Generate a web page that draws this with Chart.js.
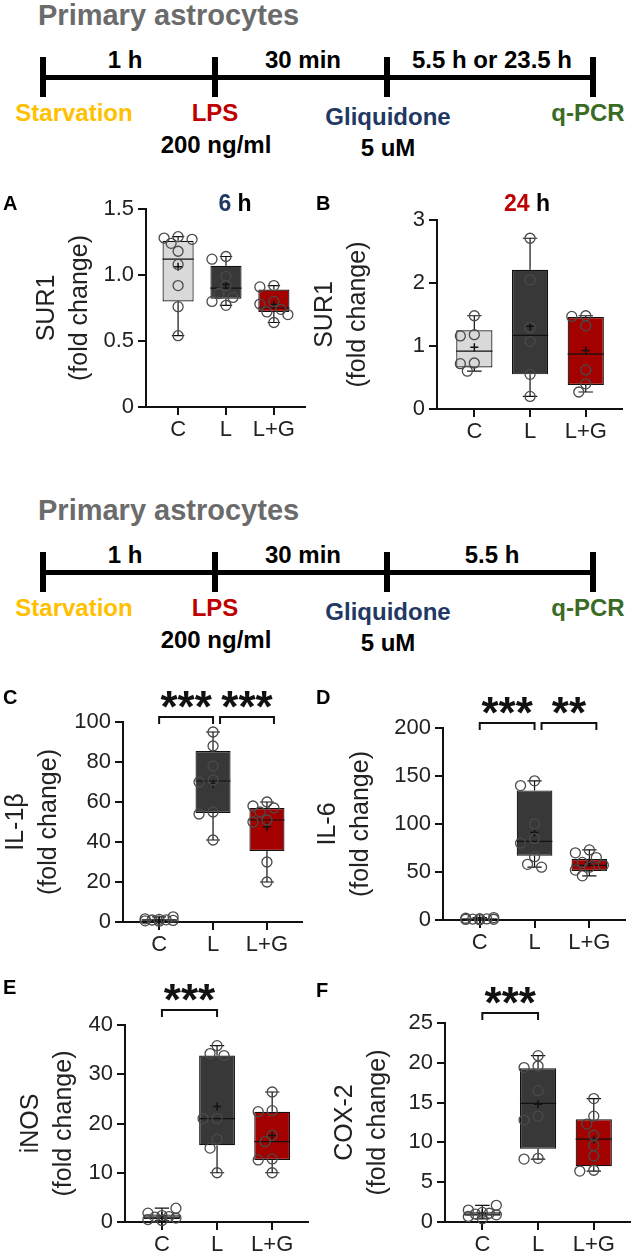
<!DOCTYPE html>
<html>
<head>
<meta charset="utf-8">
<script src="https://cdn.jsdelivr.net/npm/chart.js@4.4.1/dist/chart.umd.min.js"></script>
<style>
  body { margin: 0; background: #fff; }
  #page { position: relative; width: 632px; height: 1257px; overflow: hidden;
          font-family: "Liberation Sans", Arial, sans-serif; }
  .c { position: absolute; transform: translate(-50%, -50%); white-space: nowrap; font-weight: bold; }
  .l { position: absolute; transform: translateY(-50%); white-space: nowrap; font-weight: bold; }
  .k { position: absolute; background: #000; }
</style>
</head>
<body>
<div id="page"></div>
<script>
const groups = ["C", "L", "L+G"];
const boxColors = ["#d9d9d9", "#383838", "#a30000"];

// A: SUR1, 6 h
const sur6Ticks = [0, 0.5, 1.0, 1.5];
const sur6Points = [
  [1.29, 1.28, 1.27, 1.24, 1.18, 1.08, 0.92, 0.76, 0.54],
  [1.14, 1.12, 0.99, 0.92, 0.86, 0.83, 0.80, 0.77],
  [0.92, 0.91, 0.80, 0.78, 0.74, 0.72, 0.70, 0.64]
];
const sur6Low = [0.54, 0.77, 0.64];
const sur6Q1 = [0.80, 0.82, 0.72];
const sur6Median = [1.12, 0.90, 0.75];
const sur6Q3 = [1.26, 1.07, 0.89];
const sur6High = [1.29, 1.14, 0.92];

// B: SUR1, 24 h
const sur24Ticks = [0, 1, 2, 3];
const sur24Points = [
  [1.48, 1.18, 1.16, 0.73, 0.72, 0.60],
  [2.71, 2.05, 1.29, 1.07, 0.55, 0.20],
  [1.48, 1.47, 1.32, 0.62, 0.40, 0.27]
];
const sur24Low = [0.60, 0.20, 0.27];
const sur24Q1 = [0.66, 0.55, 0.38];
const sur24Median = [0.92, 1.17, 0.87];
const sur24Q3 = [1.25, 2.21, 1.46];
const sur24High = [1.48, 2.71, 1.48];

// C: IL-1beta
const il1bTicks = [0, 20, 40, 60, 80, 100];
const il1bPoints = [
  [0.4, 0.6, 0.8, 1.0, 1.1, 1.3, 1.6, 2.6],
  [95, 88, 78, 71, 70, 55, 54, 41],
  [60, 58, 57, 55, 51, 50, 30, 20]
];
const il1bLow = [0.4, 41, 20];
const il1bQ1 = [0.6, 54.5, 35.5];
const il1bMedian = [1.0, 70.5, 51];
const il1bQ3 = [1.4, 85.5, 57];
const il1bHigh = [2.6, 95, 60];

// D: IL-6
const il6Ticks = [0, 50, 100, 150, 200];
const il6Points = [
  [0.3, 0.6, 0.8, 1.0, 1.1, 1.4, 1.8, 2.5],
  [145, 140, 100, 85, 80, 66, 58, 55],
  [73, 70, 65, 60, 57, 55, 52, 46]
];
const il6Low = [0.3, 55, 46];
const il6Q1 = [0.6, 67, 51];
const il6Median = [1.0, 82, 57];
const il6Q3 = [1.5, 135, 63.5];
const il6High = [2.5, 145, 73];

// E: iNOS
const inosTicks = [0, 10, 20, 30, 40];
const inosPoints = [
  [0.3, 0.5, 0.8, 1.0, 1.1, 1.3, 1.8, 2.8],
  [35.8, 34.2, 33.8, 21, 21, 16.8, 15, 10],
  [26.4, 22.6, 22.4, 17.6, 16.3, 12.8, 12.6, 10]
];
const inosLow = [0.3, 10, 10];
const inosQ1 = [0.6, 15.6, 12.6];
const inosMedian = [1.0, 21, 16.3];
const inosQ3 = [1.5, 33.8, 22.4];
const inosHigh = [2.8, 35.8, 26.4];

// F: COX-2
const coxTicks = [0, 5, 10, 15, 20, 25];
const coxPoints = [
  [0.4, 0.7, 0.9, 1.0, 1.1, 1.2, 1.5, 2.1],
  [20.9, 19.6, 19.4, 16.5, 13.3, 12.8, 8.0, 7.9],
  [15.5, 13.3, 12.3, 10.9, 9.6, 8.3, 6.5, 6.4]
];
const coxLow = [0.4, 7.9, 6.4];
const coxQ1 = [0.8, 9.2, 7.0];
const coxMedian = [1.0, 14.9, 10.4];
const coxQ3 = [1.3, 19.3, 12.9];
const coxHigh = [2.1, 20.9, 15.5];

const page = document.getElementById("page");
const FONT = '"Liberation Sans", Arial, sans-serif';

function addEl(cls, html, css) {
  const d = document.createElement("div");
  d.className = cls;
  d.innerHTML = html;
  d.style.cssText = css;
  page.appendChild(d);
  return d;
}

// timeline block
function timeline(dy, lastSpan) {
  addEl("l", "Primary astrocytes", `left:38px;top:${dy + 15}px;font-size:29px;color:#6b6b6b`);
  addEl("c", "1 h", `left:125px;top:${dy + 60}px;font-size:24px`);
  addEl("c", "30 min", `left:303px;top:${dy + 60}px;font-size:24px`);
  addEl("c", lastSpan, `left:492px;top:${dy + 60}px;font-size:24px`);
  addEl("k", "", `left:43px;top:${dy + 75}px;width:550px;height:5px`);
  [43, 215, 387, 593].forEach(x => {
    addEl("k", "", `left:${x - 3}px;top:${dy + 57}px;width:6px;height:40px`);
  });
  addEl("c", "Starvation", `left:74px;top:${dy + 113}px;font-size:24px;color:#ffc000`);
  addEl("c", "LPS", `left:215px;top:${dy + 113}px;font-size:24px;color:#c00000`);
  addEl("c", "Gliquidone", `left:388px;top:${dy + 117}px;font-size:24px;color:#1f3864`);
  addEl("c", "q-PCR", `left:588px;top:${dy + 113}px;font-size:24px;color:#3a6b24`);
  addEl("c", "200 ng/ml", `left:216px;top:${dy + 145}px;font-size:24px`);
  addEl("c", "5 uM", `left:388px;top:${dy + 148}px;font-size:24px`);
}
timeline(0, "5.5 h or 23.5 h");
timeline(495, "5.5 h");

// box plot extras: whiskers, medians, means, points, significance brackets
const boxPlot = {
  id: "boxPlot",
  afterDatasetsDraw(chart, args, o) {
    const ctx = chart.ctx;
    const x = chart.scales.x, y = chart.scales.y;
    const bars = chart.getDatasetMeta(0).data;
    ctx.save();
    groups.forEach((g, i) => {
      const cx = x.getPixelForValue(i);
      const w = bars[i].width;
      const yq1 = y.getPixelForValue(o.q1[i]), yq3 = y.getPixelForValue(o.q3[i]);
      const ylo = y.getPixelForValue(o.low[i]), yhi = y.getPixelForValue(o.high[i]);
      const ym = y.getPixelForValue(o.median[i]);
      ctx.strokeStyle = "#111";
      ctx.lineWidth = 1.2;
      ctx.beginPath();
      ctx.moveTo(cx, yq3); ctx.lineTo(cx, yhi);
      ctx.moveTo(cx - w * 0.2, yhi); ctx.lineTo(cx + w * 0.2, yhi);
      ctx.moveTo(cx, yq1); ctx.lineTo(cx, ylo);
      ctx.moveTo(cx - w * 0.2, ylo); ctx.lineTo(cx + w * 0.2, ylo);
      ctx.moveTo(cx - w / 2, ym); ctx.lineTo(cx + w / 2, ym);
      ctx.stroke();

      // mean "+"
      const pts = o.points[i];
      const mean = pts.reduce((a, b) => a + b, 0) / pts.length;
      const yMean = y.getPixelForValue(mean);
      ctx.lineWidth = 1.5;
      ctx.beginPath();
      ctx.moveTo(cx - 4, yMean); ctx.lineTo(cx + 4, yMean);
      ctx.moveTo(cx, yMean - 4); ctx.lineTo(cx, yMean + 4);
      ctx.stroke();

      // points, spread sideways where they overlap
      const r = 5, step = 7;
      const placed = [];
      pts.forEach(v => {
        const py = y.getPixelForValue(v);
        let best = cx, bestD = -1;
        for (const k of [0, -1, 1, -2, 2]) {
          const px = cx + k * step;
          let d = Infinity;
          placed.forEach(p => { d = Math.min(d, Math.hypot(p[0] - px, p[1] - py)); });
          if (d >= 2 * r - 1) { best = px; break; }
          if (d > bestD) { bestD = d; best = px; }
        }
        placed.push([best, py]);
      });
      ctx.strokeStyle = "#4a4a4a";
      ctx.lineWidth = 1.3;
      placed.forEach(p => {
        ctx.beginPath();
        ctx.arc(p[0], p[1], r, 0, Math.PI * 2);
        ctx.stroke();
      });
    });

    (o.sig || []).forEach(s => {
      const xa = x.getPixelForValue(s.from) + s.shift;
      const xb = x.getPixelForValue(s.to) + s.shift;
      const by = chart.chartArea.top - o.sigGap;
      ctx.strokeStyle = "#111";
      ctx.lineWidth = 2;
      ctx.beginPath();
      ctx.moveTo(xa, by + 7); ctx.lineTo(xa, by); ctx.lineTo(xb, by); ctx.lineTo(xb, by + 7);
      ctx.stroke();
      ctx.fillStyle = "#111";
      ctx.font = "bold 44px " + FONT;
      ctx.textAlign = "center";
      ctx.textBaseline = "alphabetic";
      ctx.fillText(s.text, (xa + xb) / 2, by - 21 + 0.58 * 44);
    });
    ctx.restore();
  }
};

function makePanel(p) {
  const [bl, bt, bw, bh] = p.box;
  const wrap = document.createElement("div");
  wrap.style.cssText = `position:absolute;left:${bl}px;top:${bt}px;width:${bw}px;height:${bh}px`;
  const cv = document.createElement("canvas");
  wrap.appendChild(cv);
  page.appendChild(wrap);

  addEl("l", p.letter, `left:${p.letterAt[0]}px;top:${p.letterAt[1]}px;font-size:20px`);
  if (p.head) addEl("c", p.head, `left:${p.headAt[0]}px;top:${p.headAt[1]}px;font-size:23px`);

  const axisGrid = { display: true, drawOnChartArea: false, drawTicks: true, tickLength: 8, color: "#111", lineWidth: 2 };
  const axisBorder = { display: true, color: "#111", width: 2 };

  new Chart(cv, {
    type: "bar",
    data: {
      datasets: [{
        data: p.q1.map((v, i) => ({ x: i, y: [v, p.q3[i]] })),
        backgroundColor: boxColors,
        borderColor: "#111",
        borderWidth: 1.2,
        borderSkipped: false,
        barPercentage: 0.65,
        categoryPercentage: 1
      }]
    },
    options: {
      responsive: true,
      maintainAspectRatio: false,
      animation: false,
      layout: { padding: { left: 0, bottom: 0, top: p.plot.top - bt, right: bl + bw - p.plot.right } },
      plugins: {
        legend: { display: false },
        tooltip: { enabled: false },
        boxPlot: { points: p.points, low: p.low, q1: p.q1, median: p.median, q3: p.q3, high: p.high,
                   sig: p.sig, sigGap: p.sigGap }
      },
      scales: {
        x: {
          type: "linear",
          min: -0.67,
          max: 2.65,
          offset: false,
          afterBuildTicks: s => { s.ticks = groups.map((g, i) => ({ value: i })); },
          afterFit: s => { s.height = bt + bh - p.plot.bottom; },
          ticks: { autoSkip: false, maxRotation: 0, minRotation: 0, padding: 2, color: "#222",
                   font: { size: 22, family: FONT }, callback: v => groups[v] },
          grid: Object.assign({ offset: false }, axisGrid),
          border: axisBorder
        },
        y: {
          min: p.ticks[0],
          max: p.ticks[p.ticks.length - 1],
          afterBuildTicks: s => { s.ticks = p.ticks.map(v => ({ value: v })); },
          afterFit: s => { s.width = p.plot.left - bl; },
          ticks: { padding: 4, color: "#222", font: { size: 22, family: FONT }, callback: p.fmt },
          grid: axisGrid,
          border: axisBorder,
          title: { display: true, text: [p.yTitle, "(fold change)"], color: "#222",
                   font: { size: 25, family: FONT, lineHeight: 1.3 },
                   padding: { top: p.titlePad, bottom: 0 } }
        }
      }
    },
    plugins: [boxPlot]
  });
}

const intFmt = v => String(v);

makePanel({
  letter: "A", letterAt: [3, 203], head: '<span style="color:#1f3864">6</span> h', headAt: [235, 203],
  box: [0, 185, 315, 270], plot: { left: 146, top: 209, bottom: 407, right: 305 }, titlePad: 31,
  yTitle: "SUR1", ticks: sur6Ticks, fmt: v => (v === 0 ? "0" : v.toFixed(1)),
  points: sur6Points, low: sur6Low, q1: sur6Q1, median: sur6Median, q3: sur6Q3, high: sur6High
});
makePanel({
  letter: "B", letterAt: [316, 203], head: '<span style="color:#c00000">24</span> h', headAt: [527, 203],
  box: [300, 185, 332, 270], plot: { left: 437, top: 220, bottom: 409, right: 622 }, titlePad: 9,
  yTitle: "SUR1", ticks: sur24Ticks, fmt: intFmt,
  points: sur24Points, low: sur24Low, q1: sur24Q1, median: sur24Median, q3: sur24Q3, high: sur24High
});
makePanel({
  letter: "C", letterAt: [3, 697],
  box: [0, 675, 315, 285], plot: { left: 123, top: 722, bottom: 922, right: 302 }, titlePad: 0,
  yTitle: "IL-1β", ticks: il1bTicks, fmt: intFmt,
  points: il1bPoints, low: il1bLow, q1: il1bQ1, median: il1bMedian, q3: il1bQ3, high: il1bHigh,
  sig: [{ from: 0, to: 1, shift: 0, text: "***" }, { from: 1, to: 2, shift: 7, text: "***" }], sigGap: 5
});
makePanel({
  letter: "D", letterAt: [316, 697],
  box: [310, 675, 322, 285], plot: { left: 443, top: 728, bottom: 920, right: 625 }, titlePad: 2,
  yTitle: "IL-6", ticks: il6Ticks, fmt: intFmt,
  points: il6Points, low: il6Low, q1: il6Q1, median: il6Median, q3: il6Q3, high: il6High,
  sig: [{ from: 0, to: 1, shift: 0, text: "***" }, { from: 1, to: 2, shift: 7, text: "**" }], sigGap: 5
});
makePanel({
  letter: "E", letterAt: [3, 987],
  box: [0, 965, 315, 292], plot: { left: 125, top: 1025, bottom: 1222, right: 308 }, titlePad: 15,
  yTitle: "iNOS", ticks: inosTicks, fmt: intFmt,
  points: inosPoints, low: inosLow, q1: inosQ1, median: inosMedian, q3: inosQ3, high: inosHigh,
  sig: [{ from: 0, to: 1, shift: 0, text: "***" }], sigGap: 15
});
makePanel({
  letter: "F", letterAt: [316, 990],
  box: [315, 965, 317, 292], plot: { left: 445, top: 1023, bottom: 1222, right: 630 }, titlePad: 14,
  yTitle: "COX-2", ticks: coxTicks, fmt: intFmt,
  points: coxPoints, low: coxLow, q1: coxQ1, median: coxMedian, q3: coxQ3, high: coxHigh,
  sig: [{ from: 0, to: 1, shift: 0, text: "***" }], sigGap: 10
});
</script>
</body>
</html>
